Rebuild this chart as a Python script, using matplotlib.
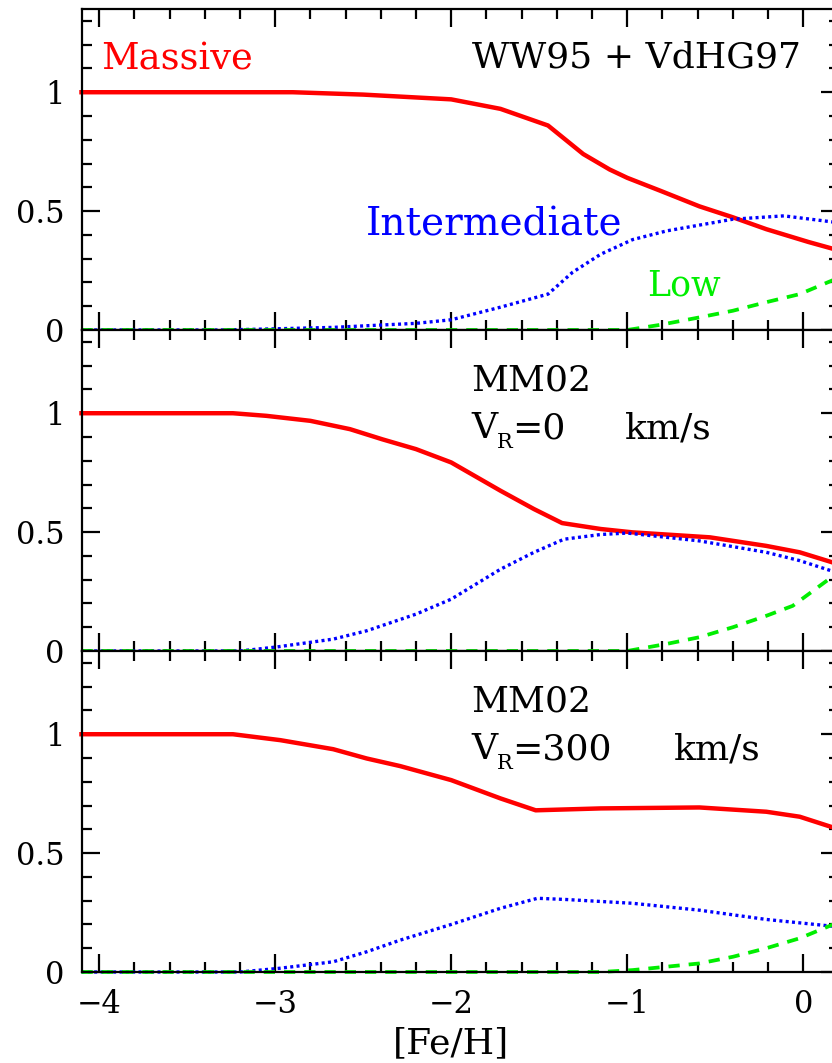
import matplotlib
matplotlib.use("Agg")
import matplotlib.pyplot as plt
from matplotlib.ticker import MultipleLocator, FixedLocator

# ---------------- data ----------------
# Panel 1: WW95 + VdHG97
x_mass1 = [-4.1, -3.5, -2.9, -2.5, -2.2, -2.0, -1.72, -1.45, -1.35, -1.25, -1.1, -1.0, -0.81, -0.59, -0.40, -0.21, 0.03, 0.2]
y_mass1 = [1.0, 1.0, 1.0, 0.99, 0.978, 0.97, 0.93, 0.86, 0.80, 0.74, 0.675, 0.64, 0.585, 0.52, 0.474, 0.424, 0.37, 0.335]
x_int1 = [-4.1, -3.3, -3.0, -2.67, -2.2, -2.0, -1.72, -1.45, -1.31, -1.15, -0.97, -0.775, -0.40, -0.11, 0.16, 0.2]
y_int1 = [0.0, 0.0, 0.005, 0.011, 0.028, 0.043, 0.096, 0.151, 0.243, 0.319, 0.38, 0.417, 0.466, 0.48, 0.455, 0.45]
x_low1 = [-4.1, -1.0, -0.81, -0.59, -0.40, -0.21, -0.02, 0.16, 0.2]
y_low1 = [0.0, 0.0, 0.022, 0.053, 0.081, 0.117, 0.151, 0.207, 0.22]

# Panel 2: MM02, V_R = 0 km/s
x_mass2 = [-4.1, -3.24, -3.05, -2.8, -2.575, -2.39, -2.2, -2.0, -1.72, -1.53, -1.37, -1.15, -0.97, -0.53, -0.21, -0.02, 0.16, 0.2]
y_mass2 = [1.0, 1.0, 0.989, 0.968, 0.933, 0.89, 0.849, 0.793, 0.674, 0.597, 0.538, 0.513, 0.499, 0.478, 0.442, 0.415, 0.374, 0.365]
x_int2 = [-4.1, -3.2, -2.99, -2.67, -2.48, -2.2, -2.0, -1.72, -1.53, -1.36, -1.15, -1.0, -0.59, -0.21, -0.02, 0.16, 0.2]
y_int2 = [0.0, 0.0, 0.017, 0.05, 0.085, 0.155, 0.218, 0.344, 0.415, 0.47, 0.49, 0.496, 0.463, 0.415, 0.38, 0.337, 0.33]
x_low2 = [-4.1, -1.0, -0.775, -0.59, -0.40, -0.21, -0.06, 0.16, 0.2]
y_low2 = [0.0, 0.0, 0.03, 0.058, 0.1, 0.148, 0.19, 0.31, 0.33]

# Panel 3: MM02, V_R = 300 km/s
x_mass3 = [-4.1, -3.24, -2.97, -2.67, -2.48, -2.29, -2.0, -1.72, -1.52, -1.15, -0.59, -0.21, -0.02, 0.16, 0.2]
y_mass3 = [1.0, 1.0, 0.975, 0.937, 0.898, 0.866, 0.807, 0.73, 0.68, 0.688, 0.692, 0.674, 0.653, 0.61, 0.6]
x_int3 = [-4.1, -3.2, -2.97, -2.67, -2.48, -2.29, -2.0, -1.72, -1.51, -1.35, -0.97, -0.59, -0.21, 0.16, 0.2]
y_int3 = [0.0, 0.0, 0.016, 0.043, 0.085, 0.134, 0.2, 0.268, 0.31, 0.305, 0.289, 0.26, 0.221, 0.193, 0.19]
x_low3 = [-4.1, -1.15, -0.97, -0.59, -0.40, -0.21, -0.02, 0.16, 0.2]
y_low3 = [0.0, 0.0, 0.008, 0.036, 0.064, 0.1, 0.142, 0.197, 0.21]

panels = [
    (x_mass1, y_mass1, x_int1, y_int1, x_low1, y_low1),
    (x_mass2, y_mass2, x_int2, y_int2, x_low2, y_low2),
    (x_mass3, y_mass3, x_int3, y_int3, x_low3, y_low3),
]
y_ticks = [0, 0.5, 1]
y_ticklabels = ["0", "0.5", "1"]
x_ticks = [-4, -3, -2, -1, 0]
x_ticklabels = ["\u22124", "\u22123", "\u22122", "\u22121", "0"]

# ---------------- styling ----------------
W, H = 832, 1063
fig = plt.figure(figsize=(W / 100, H / 100), dpi=100)

RED, BLUE, GREEN = "#ff0000", "#0000ff", "#00ee00"
SERIF = "DejaVu Serif"
tickfont = dict(family=SERIF, size=22)

left_px, right_px = 81.5, 838.5
tops = [9, 330, 651]
panel_h = 321

def fpx(x, y):
    return x / W, 1 - y / H

for i, (xm, ym, xi, yi, xl, yl) in enumerate(panels):
    bottom = 1 - (tops[i] + panel_h) / H
    ax = fig.add_axes([left_px / W, bottom, (right_px - left_px) / W, panel_h / H])
    ax.set_xlim(-4.1, 0.2)
    ax.set_ylim(0, 1.35)
    ax.plot(xm, ym, color=RED, lw=3.2, solid_joinstyle="round", clip_on=False, zorder=2)
    ax.plot(xi, yi, color=BLUE, lw=2.4, linestyle=(0, (0.9, 1.0)), clip_on=False, zorder=2)
    ax.plot(xl, yl, color=GREEN, lw=2.7, linestyle=(0, (3.0, 2.4)), clip_on=False, zorder=2)
    ax.xaxis.set_major_locator(FixedLocator(x_ticks))
    ax.xaxis.set_minor_locator(MultipleLocator(0.2))
    ax.yaxis.set_major_locator(FixedLocator(y_ticks))
    ax.yaxis.set_minor_locator(MultipleLocator(0.1))
    ax.tick_params(which="both", direction="in", top=True, right=True, width=1.6, colors="black")
    ax.tick_params(which="major", length=13)
    ax.tick_params(which="minor", length=7)
    ax.tick_params(axis="y", pad=12)
    ax.tick_params(axis="x", pad=12)
    ax.set_yticklabels(y_ticklabels, fontdict=tickfont)
    if i < 2:
        ax.set_xticklabels([])
    else:
        ax.set_xticklabels(x_ticklabels, fontdict=tickfont)
    for s in ax.spines.values():
        s.set_linewidth(1.6)
        s.set_zorder(3)

# ---------------- annotations ----------------
fig.text(*fpx(100.7, 70), "Massive", color=RED, va="baseline", ha="left", family=SERIF, size=26.5)
fig.text(*fpx(366, 235), "Intermediate", color=BLUE, va="baseline", ha="left", family=SERIF, size=28)
fig.text(*fpx(646.7, 295), "Low", color=GREEN, va="baseline", ha="left", family=SERIF, size=25)

BIG = 26
fig.text(*fpx(471.7, 68), "WW95 + VdHG97", va="baseline", ha="left", family=SERIF, size=BIG)

for base, val, km_x in [(390.7, "0", 625), (711.7, "300", 674)]:
    fig.text(*fpx(471.7, base), "MM02", va="baseline", ha="left", family=SERIF, size=BIG)
    b2 = base + 47.5
    fig.text(*fpx(471.7, b2), "V", va="baseline", ha="left", family=SERIF, size=BIG)
    fig.text(*fpx(497, b2 + 10), "R", va="baseline", ha="left", family=SERIF, size=15)
    fig.text(*fpx(512, b2), "=" + val, va="baseline", ha="left", family=SERIF, size=BIG)
    fig.text(*fpx(km_x, b2), "km/s", va="baseline", ha="left", family=SERIF, size=BIG)

fig.text(*fpx(451, 1053), "[Fe/H]", va="baseline", ha="center", family=SERIF, size=26)

fig.savefig("out.png", dpi=100)
